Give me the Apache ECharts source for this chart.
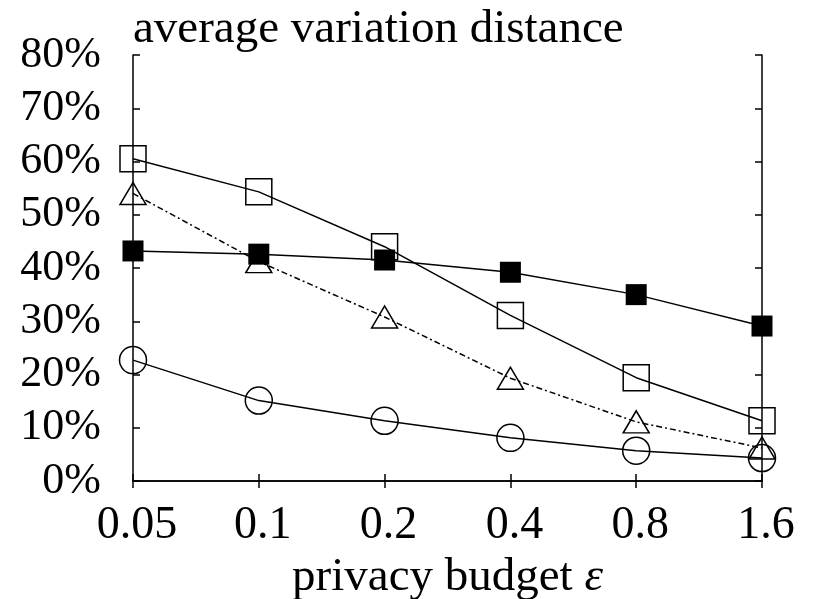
<!DOCTYPE html>
<html>
<head>
    <meta charset="utf-8">
    <title>average variation distance</title>
    <script src="https://cdn.jsdelivr.net/npm/echarts@6/dist/echarts.min.js"></script>
</head>
<body style="margin:0;background:#fff;">
    <div id="chart" style="width:813px;height:599px;"></div>
    <script type="text/javascript">
        var chart = echarts.init(document.getElementById("chart"));

        // privacy budget epsilon
        var budgets = ['0.05', '0.1', '0.2', '0.4', '0.8', '1.6'];
        var yTicks = [0, 10, 20, 30, 40, 50, 60, 70, 80];

        // average variation distance, in %
        var filledSquare = [43.2, 42.6, 41.5, 39.2, 35.0, 29.1];
        var openSquare = [60.5, 54.3, 44.0, 31.1, 19.4, 11.3];
        var triangle = [54.0, 41.2, 30.8, 19.3, 11.1, 6.2];
        var circle = [22.7, 15.1, 11.3, 8.1, 5.7, 4.3];

        var serif = '"Liberation Serif", "DejaVu Serif", serif';

        function line(name, data, symbol, size, filled, dashed) {
            return {
                name: name,
                type: 'line',
                data: data,
                symbol: symbol,
                symbolSize: size,
                showAllSymbol: true,
                z: filled ? 4 : 3,
                lineStyle: {
                    color: '#000',
                    width: 1.5,
                    type: dashed ? [6, 3, 2, 3] : 'solid'
                },
                itemStyle: {
                    color: filled ? '#000' : 'rgba(0,0,0,0)',
                    borderColor: '#000',
                    borderWidth: filled ? 0 : 1.5
                }
            };
        }

        var option = {
            backgroundColor: '#fff',
            animation: false,
            title: {
                text: 'average variation distance',
                left: 133,
                top: 6,
                padding: [0, 0, 0, 0],
                textStyle: {
                    fontFamily: serif,
                    fontSize: 47,
                    fontWeight: 'normal',
                    color: '#000'
                }
            },
            grid: {left: 133, right: 51, top: 55, bottom: 118, containLabel: false, outerBoundsMode: 'none'},
            xAxis: [{
                type: 'category',
                data: budgets,
                boundaryGap: false,
                position: 'bottom',
                axisLine: {lineStyle: {color: '#000', width: 1.5}},
                axisTick: {inside: true, length: 7, lineStyle: {color: '#000', width: 1.5}},
                axisLabel: {fontFamily: serif, fontSize: 46, color: '#000', margin: 22, padding: [0, 0, 0, 8]},
                splitLine: {show: false},
                name: 'privacy budget {i|ε}',
                nameLocation: 'middle',
                nameGap: 70,
                nameTextStyle: {
                    fontFamily: serif, fontSize: 47, color: '#000',
                    rich: {i: {fontFamily: serif, fontSize: 47, fontStyle: 'italic', color: '#000'}}
                }
            }, {
                type: 'category',
                data: budgets,
                boundaryGap: false,
                position: 'top',
                axisLine: {lineStyle: {color: '#000', width: 1.5}},
                axisTick: {inside: true, length: 7, lineStyle: {color: '#000', width: 1.5}},
                axisLabel: {show: false}
            }],
            yAxis: [{
                type: 'value',
                min: 0,
                max: 80,
                interval: 10,
                position: 'left',
                axisLine: {show: true, lineStyle: {color: '#000', width: 1.5}},
                axisTick: {show: true, inside: true, length: 7, lineStyle: {color: '#000', width: 1.5}},
                axisLabel: {
                    fontFamily: serif, fontSize: 44, color: '#000', margin: 32,
                    formatter: function (v) { return yTicks.indexOf(v) >= 0 ? v + '%' : ''; }
                },
                splitLine: {show: false}
            }, {
                type: 'value',
                min: 0,
                max: 80,
                interval: 10,
                position: 'right',
                axisLine: {show: true, lineStyle: {color: '#000', width: 1.5}},
                axisTick: {show: true, inside: true, length: 7, lineStyle: {color: '#000', width: 1.5}},
                axisLabel: {show: false},
                splitLine: {show: false}
            }],
            series: [
                line('open square', openSquare, 'rect', 26, false, false),
                line('triangle', triangle, 'triangle', [26, 22], false, true),
                line('circle', circle, 'circle', 27, false, false),
                line('filled square', filledSquare, 'rect', 21, true, false)
            ]
        };

        chart.setOption(option);
    </script>
</body>
</html>
